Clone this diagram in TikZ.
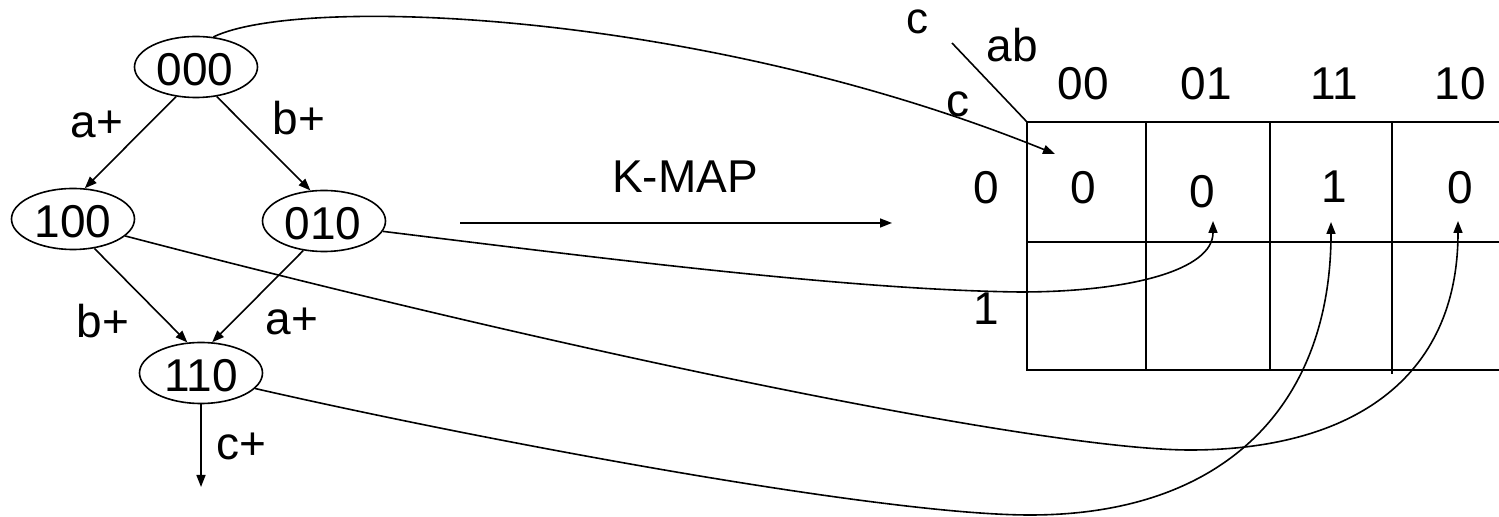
\documentclass[tikz,border=0pt]{standalone}
\usepackage{fontspec}
\setmainfont{Liberation Sans}
\usetikzlibrary{shapes.geometric,arrows.meta}
\begin{document}
\begin{tikzpicture}[x=0.5pt,y=-0.5pt,
  every node/.style={font=\fontsize{23}{26}\selectfont},
  state/.style={draw,ellipse,line width=0.8pt,minimum width=61.5pt,minimum height=30.5pt,inner sep=0pt},
  lbl/.style={anchor=base,inner sep=0pt},
  arr/.style={line width=0.8pt,-{Triangle[length=6pt,width=4.5pt]}},
  grid/.style={line width=1pt}]
\useasboundingbox (0,0) rectangle (1499,517);
% state graph
\node[state] (n000) at (196,67) {};
\node[state] (n100) at (73,219) {};
\node[state] (n010) at (324,221) {};
\node[state] (n110) at (201,373) {};
\node[lbl] (t000) at (195,86) {000};
\node[lbl] (t100) at (73,238) {100};
\node[lbl] (t010) at (323,240) {010};
\node[lbl] (t110) at (201,392) {110};
\draw[arr] (n000.236) -- (n100.69);
\draw[arr] (n000.305) -- (n010.114);
\draw[arr] (n100.306) -- (n110.114);
\draw[arr] (n010.235) -- (n110.70);
\coordinate (cend) at (201,487);
\draw[arr] (n110.south) -- (cend);
\node[lbl] (la1) at (97,138) {a+};
\node[lbl] (lb1) at (299,135) {b+};
\node[lbl] (lb2) at (103,338) {b+};
\node[lbl] (la2) at (292,335) {a+};
\node[lbl] (lc) at (241,460) {c+};
% K-MAP arrow
\coordinate (ks) at (460,223);
\coordinate (ke) at (892,223);
\draw[arr] (ks) -- (ke);
\node[lbl] (kmap) at (685,193) {K-MAP};
% Karnaugh map
\coordinate (kTL) at (1027,122);
\draw[grid] (1499,122) -- (kTL) -- (1027,370) -- (1499,370);
\draw[grid] (1027,242) -- (1499,242);
\draw[grid] (1146,122) -- (1146,370);
\draw[grid] (1270,122) -- (1270,370);
\draw[grid] (1392,122) -- (1392,374);
\draw[line width=0.8pt] (952,43) -- (kTL);
\node[lbl,font=\fontsize{22}{24}\selectfont] (kc1) at (917,34) {c};
\node[lbl] (kab) at (1012,62) {ab};
\node[lbl] (kc2) at (958,117) {c};
\node[lbl] (h00) at (1083,100) {00};
\node[lbl] (h01) at (1206,100) {01};
\node[lbl] (h11) at (1334,100) {11};
\node[lbl] (h10) at (1460,100) {10};
\node[lbl] (r0) at (986,204) {0};
\node[lbl] (r1) at (986,325) {1};
\node[lbl] (v00) at (1083,204) {0};
\node[lbl] (v01) at (1202,208) {0};
\node[lbl] (v11) at (1334,203) {1};
\node[lbl] (v10) at (1460,204) {0};
% mapping curves
\coordinate (p00) at (1055,154);
\coordinate (p01) at (1213,221);
\coordinate (p11) at (1331,222);
\coordinate (p10) at (1458,221);
\draw[arr] (n000.60) .. controls (300,-5) and (700,10) .. (p00);
\draw[arr] (n010.350) .. controls (600,258) and (850,290) .. (1020,292)
   .. controls (1130,292) and (1213,270) .. (p01);
\draw[arr] (n100.342) .. controls (600,360) and (1050,450) .. (1190,450)
   .. controls (1350,450) and (1458,380) .. (p10);
\draw[arr] (n110.344) .. controls (480,440) and (880,515) .. (1030,515)
   .. controls (1230,515) and (1331,400) .. (p11);
\end{tikzpicture}
\end{document}
